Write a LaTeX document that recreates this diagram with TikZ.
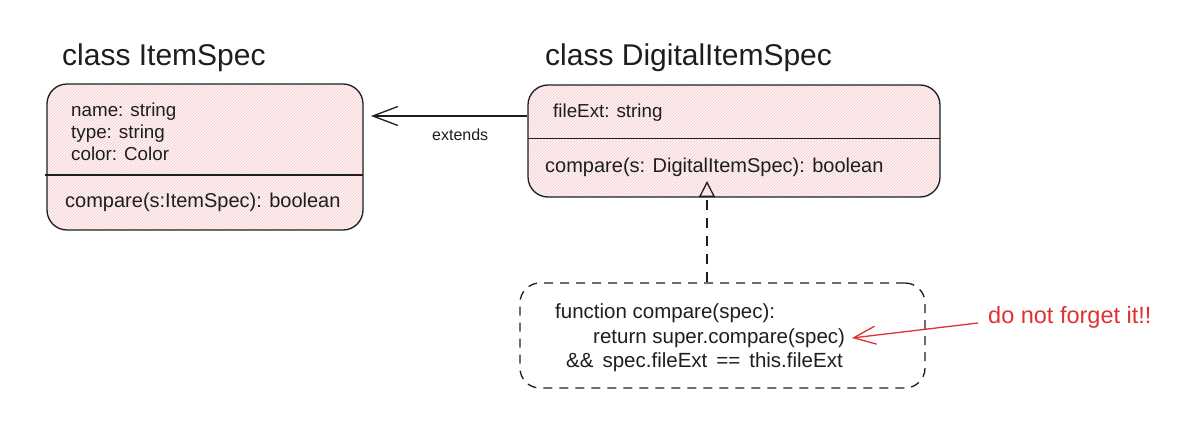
\documentclass[tikz,border=0pt]{standalone}
\usepackage{fontspec}
\setmainfont{Liberation Sans}
\usetikzlibrary{arrows.meta,patterns}
\definecolor{ink}{HTML}{1E1E1E}
\definecolor{hatch}{HTML}{F5C9CC}
\definecolor{paper}{HTML}{FDF5F5}
\definecolor{redink}{HTML}{E03131}
\tikzset{
  classbox/.style={draw=ink, line width=1.3pt, rounded corners=20pt,
    preaction={fill=paper}, pattern=north east lines, pattern color=hatch,
    inner sep=0pt},
  notebox/.style={draw=ink, line width=1.3pt, rounded corners=20pt,
    dash pattern=on 9pt off 7pt, inner sep=0pt},
  title/.style={anchor=base west, inner sep=0pt, text=ink, font=\fontsize{30}{36}\selectfont},
  attr/.style={anchor=base west, inner sep=0pt, text=ink, font=\fontsize{18.8}{22}\selectfont},
  meth/.style={anchor=base west, inner sep=0pt, text=ink, font=\fontsize{20}{24}\selectfont},
  code/.style={anchor=base west, inner sep=0pt, text=ink, font=\fontsize{20.5}{24}\selectfont},
  lbl/.style={anchor=base west, inner sep=0pt, text=ink, font=\fontsize{16}{19}\selectfont},
  redlbl/.style={anchor=base west, inner sep=0pt, text=redink, font=\fontsize{23.5}{28}\selectfont},
  divider/.style={draw=ink, line width=1.3pt},
  extarrow/.style={draw=ink, line width=1.3pt, -{Straight Barb[length=25pt,width=19pt,line width=1.3pt]}},
  realarrow/.style={draw=ink, line width=1.3pt, dash pattern=on 10pt off 8pt,
    -{Triangle[open,length=16pt,width=16pt,line width=1.3pt]}},
  redarrow/.style={draw=redink, line width=1.3pt, -{Straight Barb[length=22pt,width=18pt,line width=1.3pt]}},
}
\begin{document}
\begin{tikzpicture}[x=1pt,y=-1pt]
\useasboundingbox (0,0) rectangle (1198,420);
% class boxes
\node[classbox, minimum width=316pt, minimum height=146pt] (b1) at (205,157) {};
\node[classbox, minimum width=412pt, minimum height=112pt] (b2) at (734,141) {};
\node[notebox, minimum width=405pt, minimum height=105pt] (nb) at (722.5,335.5) {};
% dividers
\coordinate (d1w) at (45,175);
\coordinate (d1e) at (363,175);
\draw[divider] (d1w) -- (d1e);
\coordinate (d2w) at (528,138.5);
\coordinate (d2e) at (940,138.5);
\draw[divider] (d2w) -- (d2e);
% titles
\node[title] (t1) at (62,65) {class ItemSpec};
\node[title] (t2) at (545,65) {class DigitalItemSpec};
% ItemSpec contents
\node[attr] (a1) at (71,116) {name: string};
\node[attr] (a2) at (71,138) {type: string};
\node[attr] (a3) at (71,160) {color: Color};
\node[meth] (m1) at (65,207) {compare(s:ItemSpec): boolean};
% DigitalItemSpec contents
\node[attr] (a4) at (553,117) {fileExt: string};
\node[meth] (m2) at (545,172) {compare(s: DigitalItemSpec): boolean};
% note contents
\node[code] (c1) at (555,318) {function compare(spec):};
\node[code] (c2) at (593,343) {return super.compare(spec)};
\node[code] (c3) at (566,367) {\spaceskip=9pt\relax\&\& spec.fileExt == this.fileExt};
% extends arrow
\coordinate (extS) at (b2.west |- 0,116);
\coordinate (extE) at (371,116);
\draw[extarrow] (extS) -- (extE);
\node[lbl] (ext) at (432,140) {extends};
% realization arrow
\coordinate (realS) at (nb.north);
\coordinate (realE) at (707,181);
\draw[realarrow] (realS -| realE) -- (realE);
% red note
\node[redlbl] (red) at (988,323) {do not forget it!!};
\coordinate (redS) at (978,323);
\coordinate (redE) at (852,338);
\draw[redarrow] (redS) -- (redE);
\end{tikzpicture}
\end{document}
